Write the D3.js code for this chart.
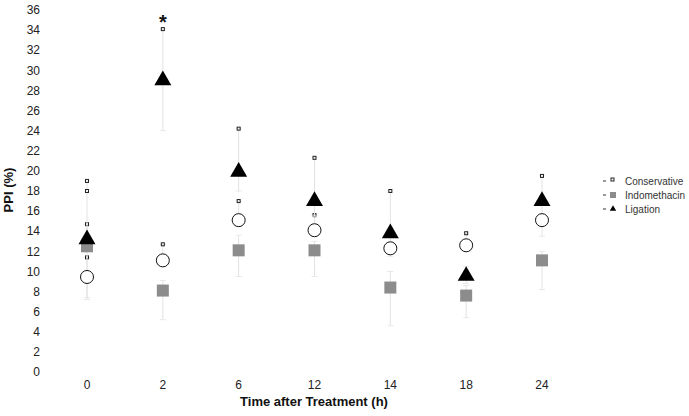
<!DOCTYPE html>
<html><head><meta charset="utf-8">
<script src="https://cdn.jsdelivr.net/npm/d3@7"></script>
<style>body{margin:0;background:#fff}svg{display:block}</style>
</head><body>
<svg id="c" width="689" height="416"></svg>
<script>
const categories = ["0","2","6","12","14","18","24"];
const yTicks = [0,2,4,6,8,10,12,14,16,18,20,22,24,26,28,30,32,34,36];
const seriesNames = ["Conservative","Indomethacin","Ligation"];
const conservative = [9.45, 11.1, 15.1, 14.1, 12.3, 12.6, 15.1];
const conservativeHi = [11.4, 12.7, 17.0, 15.6, 12.9, 13.8, 15.7];
const conservativeLo = [7.4, 10.5, 14.5, 13.5, 11.5, 12.0, 13.5];
const indomethacin = [12.5, 8.1, 12.1, 12.1, 8.4, 7.6, 11.1];
const indomethacinHi = [14.7, 9.1, 13.6, 13.0, 10.0, 8.6, 12.0];
const indomethacinLo = [7.2, 5.2, 9.5, 9.5, 4.6, 5.4, 8.2];
const ligation = [13.3, 29.1, 20.0, 17.1, 13.9, 9.65, 17.1];
const ligationHi = [19.0, 34.1, 24.2, 21.3, 18.0, 10.5, 19.5];
const ligationLo = [12.0, 24.0, 18.0, 15.5, 12.8, 8.8, 15.5];
// which upper caps show a dark mark (per series, per category)
const conservativeCapMark = [1,1,1,1,0,1,0];
const indomethacinCapMark = [1,0,0,0,0,0,0];
const ligationCapMark = [1,1,1,1,1,0,1];
const extraCaps = [["0", 18.0]];
const starAt = ["2", 35.5];

const svg = d3.select("#c");
const x = d3.scalePoint().domain(categories).range([87, 542]);
const y = d3.scaleLinear().domain([0, 36]).range([372, 10]);
const font = "Liberation Sans, Arial, sans-serif";

svg.append("g").selectAll("text").data(yTicks).join("text")
  .attr("x", 40).attr("y", d => y(d)).attr("dy", "0.35em")
  .attr("text-anchor", "end").attr("font-family", font).attr("font-size", 12)
  .attr("fill", "#222").text(d => d);
svg.append("g").selectAll("text").data(categories).join("text")
  .attr("x", d => x(d)).attr("y", 389)
  .attr("text-anchor", "middle").attr("font-family", font).attr("font-size", 12)
  .attr("fill", "#222").text(d => d);
svg.append("text").attr("x", 314).attr("y", 406).attr("text-anchor", "middle")
  .attr("font-family", font).attr("font-size", 13).attr("font-weight", "bold")
  .attr("fill", "#111").text("Time after Treatment (h)");
svg.append("text").attr("transform", "translate(13,190) rotate(-90)").attr("text-anchor", "middle")
  .attr("font-family", font).attr("font-size", 13).attr("font-weight", "bold")
  .attr("fill", "#111").text("PPI (%)");

const series = [
  {name:"Conservative", v:conservative, hi:conservativeHi, lo:conservativeLo, cap:conservativeCapMark},
  {name:"Indomethacin", v:indomethacin, hi:indomethacinHi, lo:indomethacinLo, cap:indomethacinCapMark},
  {name:"Ligation", v:ligation, hi:ligationHi, lo:ligationLo, cap:ligationCapMark}
];

const eb = svg.append("g");
series.forEach(s => {
  categories.forEach((c, i) => {
    eb.append("line").attr("x1", x(c)).attr("x2", x(c))
      .attr("y1", y(s.lo[i])).attr("y2", y(s.hi[i]))
      .attr("stroke", "#e2e2e2").attr("stroke-width", 1);
    eb.append("line").attr("x1", x(c)-3).attr("x2", x(c)+3)
      .attr("y1", y(s.lo[i])).attr("y2", y(s.lo[i]))
      .attr("stroke", "#e8e8e8").attr("stroke-width", 1);
    eb.append("line").attr("x1", x(c)-3).attr("x2", x(c)+3)
      .attr("y1", y(s.hi[i])).attr("y2", y(s.hi[i]))
      .attr("stroke", "#e8e8e8").attr("stroke-width", 1);
    if (s.cap[i]) eb.append("rect").attr("x", x(c)-1.5).attr("y", y(s.hi[i])-1.5)
      .attr("width", 3).attr("height", 3).attr("fill", "none")
      .attr("stroke", "#222").attr("stroke-width", 1);
  });
});
extraCaps.forEach(([c, v]) => {
  eb.append("rect").attr("x", x(c)-1.5).attr("y", y(v)-1.5)
    .attr("width", 3).attr("height", 3).attr("fill", "none")
    .attr("stroke", "#222").attr("stroke-width", 1);
});

const triSym = d3.symbol().type(d3.symbolTriangle).size(125);
const m = svg.append("g");
categories.forEach((c, i) => {
  m.append("rect").attr("x", x(c)-6).attr("y", y(indomethacin[i])-6)
    .attr("width", 12).attr("height", 12).attr("fill", "#8c8c8c");
});
categories.forEach((c, i) => {
  m.append("path").attr("d", triSym)
    .attr("transform", `translate(${x(c)},${y(ligation[i])+1})`).attr("fill", "#000");
});
categories.forEach((c, i) => {
  m.append("circle").attr("cx", x(c)).attr("cy", y(conservative[i])).attr("r", 6.5)
    .attr("fill", "#fff").attr("stroke", "#111").attr("stroke-width", 1);
});

svg.append("text").attr("x", x(starAt[0])).attr("y", y(starAt[1])).attr("dy", "0.7em")
  .attr("text-anchor", "middle").attr("font-family", font).attr("font-size", 20)
  .attr("font-weight", "bold").attr("fill", "#111").text("*");

const lg = svg.append("g").attr("transform", "translate(603,181)");
seriesNames.forEach((n, i) => {
  const g = lg.append("g").attr("transform", `translate(0,${i*14})`);
  g.append("line").attr("x1", 0).attr("x2", 3).attr("y1", 0).attr("y2", 0)
    .attr("stroke", "#333").attr("stroke-width", 1);
  if (i === 0) g.append("rect").attr("x", 8).attr("y", -3).attr("width", 3).attr("height", 3)
      .attr("fill", "none").attr("stroke", "#222");
  if (i === 1) g.append("rect").attr("x", 7).attr("y", -3).attr("width", 6).attr("height", 6).attr("fill", "#8c8c8c");
  if (i === 2) g.append("path").attr("d", d3.symbol().type(d3.symbolTriangle).size(18))
      .attr("transform", "translate(10,0)").attr("fill", "#000");
  g.append("text").attr("x", 22).attr("y", 0).attr("dy", "0.35em")
    .attr("font-family", font).attr("font-size", 10).attr("fill", "#333").text(n);
});
</script>
</body></html>
